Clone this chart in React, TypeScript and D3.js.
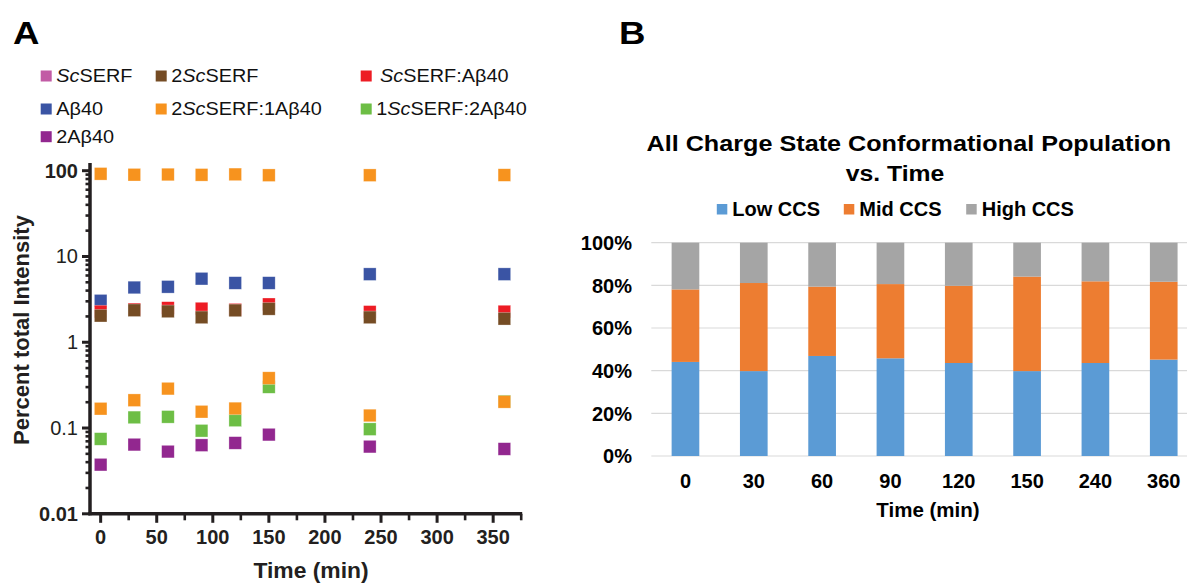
import React from 'react'
import * as d3 from 'd3'

// ---- Panel A: percent total intensity vs time (log scale) ----
const times = [0, 30, 60, 90, 120, 150, 240, 360]

// top row is drawn in orange in the source figure
const topSeries = [92, 89.8, 90.3, 89.5, 90.6, 88.6, 88.6, 89]
const abeta40 = [3.05, 4.35, 4.43, 5.51, 4.91, 4.91, 6.22, 6.22]
const scserfAbeta40 = [2.28, 2.42, 2.51, 2.47, 2.4, 2.77, 2.26, 2.28]
const twoScserf = [2.04, 2.36, 2.29, 1.95, 2.35, 2.45, 1.95, 1.88]
const twoAbeta40 = [0.0374, 0.0641, 0.0531, 0.0631, 0.067, 0.0838, 0.0607, 0.057]
const oneScserfTwoAbeta40 = [0.0746, 0.133, 0.135, 0.093, 0.123, 0.301, 0.097, 0.205]
const twoScserfOneAbeta40 = [0.168, 0.211, 0.288, 0.155, 0.169, 0.382, 0.14, 0.202]

const xTicksA = [0, 50, 100, 150, 200, 250, 300, 350]
const yTicksA = [0.01, 0.1, 1, 10, 100]
const yTickLabelsA = ['0.01', '0.1', '1', '10', '100']

const C = {
  pink: '#C25BA5',
  brown: '#754C24',
  red: '#ED1C24',
  blue: '#3A54A4',
  orange: '#F7931E',
  green: '#6DBE45',
  purple: '#92278F',
}

// legend entries: [text, italic?] parts
const legendA: { parts: [string, boolean][]; color: string }[] = [
  { parts: [['Sc', true], ['SERF', false]], color: C.pink },
  { parts: [['2', false], ['Sc', true], ['SERF', false]], color: C.brown },
  { parts: [['Sc', true], ['SERF:Aβ40', false]], color: C.red },
  { parts: [['Aβ40', false]], color: C.blue },
  { parts: [['2', false], ['Sc', true], ['SERF:1Aβ40', false]], color: C.orange },
  { parts: [['1', false], ['Sc', true], ['SERF:2Aβ40', false]], color: C.green },
  { parts: [['2Aβ40', false]], color: C.purple },
]

// draw order (later on top)
const plotSeriesA = [
  { values: abeta40, color: C.blue },
  { values: scserfAbeta40, color: C.red },
  { values: twoScserf, color: C.brown },
  { values: twoAbeta40, color: C.purple },
  { values: oneScserfTwoAbeta40, color: C.green },
  { values: twoScserfOneAbeta40, color: C.orange },
  { values: topSeries, color: C.orange },
]

// ---- Panel B: stacked 100% bars ----
const categories = ['0', '30', '60', '90', '120', '150', '240', '360']
const lowCCS = [44.1, 39.8, 46.9, 45.8, 43.6, 39.8, 43.6, 45.2]
const midCCS = [34.0, 41.3, 32.5, 34.8, 36.2, 44.3, 38.3, 36.5]
const highCCS = [21.9, 18.9, 20.6, 19.4, 20.2, 15.9, 18.1, 18.3]
const yTicksB = [0, 20, 40, 60, 80, 100]
const keysB = ['Low CCS', 'Mid CCS', 'High CCS']
const colorsB = ['#5B9BD5', '#ED7D31', '#A5A5A5']

const FONT = '"Liberation Sans", Arial, Helvetica, sans-serif'
const INK = '#231F20'

// text stretched horizontally (the source figure is a little wide)
function T(props: { x: number; y: number; sx?: number; children: any; [k: string]: any }) {
  const { x, y, sx = 1, children, ...rest } = props
  return (
    <text transform={`translate(${x},${y}) scale(${sx},1)`} {...rest}>{children}</text>
  )
}

function PanelA() {
  const x = d3.scaleLinear().domain([-9.5, 375]).range([90, 521.2])
  const y = d3.scaleLog().domain([0.01, 100]).range([513.8, 170.7])
  const minorY = y.ticks().filter(v => !yTicksA.some(t => Math.abs(t - v) / t < 1e-6))
  const minorX = d3.range(25, 376, 50)
  const s = 12.6
  const colX = [40.7, 155.7, 360.7]
  const rowY = [76, 109, 136.7]

  return (
    <g fontFamily={FONT}>
      <T x={13} y={43.5} sx={1.18} fontSize={31} fontWeight="bold" fill="#000">A</T>

      {legendA.map((d, i) => {
        const cx = colX[i % 3]
        const cy = rowY[Math.floor(i / 3)]
        const tx = i === 2 ? cx + 19.3 : cx + 15.5
        return (
          <g key={i}>
            <rect x={cx} y={cy - 5.5} width={11} height={11} fill={d.color} />
            <T x={tx} y={cy + 6.3} sx={1.13} fontSize={17.6} fill="#111">
              {d.parts.map((p, j) => (
                <tspan key={j} fontStyle={p[1] ? 'italic' : 'normal'}>{p[0]}</tspan>
              ))}
            </T>
          </g>
        )
      })}

      {/* axes */}
      <line x1={90} x2={90} y1={y(123)} y2={y(0.01) + 1.5} stroke={INK} strokeWidth={3.5} />
      <line x1={88.3} x2={x(375) + 1} y1={y(0.01)} y2={y(0.01)} stroke={INK} strokeWidth={3.5} />
      {yTicksA.map(t => (
        <line key={t} x1={82} x2={90} y1={y(t)} y2={y(t)} stroke={INK} strokeWidth={3} />
      ))}
      {minorY.map(t => (
        <line key={'m' + t} x1={85.5} x2={90} y1={y(t)} y2={y(t)} stroke={INK} strokeWidth={2.6} />
      ))}
      {xTicksA.map(t => (
        <line key={t} x1={x(t)} x2={x(t)} y1={y(0.01)} y2={y(0.01) + 9} stroke={INK} strokeWidth={3} />
      ))}
      {minorX.map(t => (
        <line key={'m' + t} x1={x(t)} x2={x(t)} y1={y(0.01)} y2={y(0.01) + 6.5} stroke={INK} strokeWidth={2.6} />
      ))}

      {yTicksA.map((t, i) => (
        <text key={t} x={78} y={y(t) + 7} textAnchor="end" fontSize={20}
          fontWeight={i === 0 || i === yTicksA.length - 1 ? 'bold' : 'normal'} fill={INK}>
          {yTickLabelsA[i]}
        </text>
      ))}
      {xTicksA.map(t => (
        <text key={t} x={x(t)} y={544} textAnchor="middle" fontSize={20} fontWeight="bold" fill={INK}>{t}</text>
      ))}

      <T x={311} y={578} sx={1.04} textAnchor="middle" fontSize={22} fontWeight="bold" fill={INK}>Time (min)</T>
      <text transform="translate(29,330) rotate(-90)" textAnchor="middle" fontSize={22} fontWeight="bold" fill={INK}>
        Percent total Intensity
      </text>

      {/* points */}
      {plotSeriesA.map((ser, si) => (
        <g key={si}>
          {ser.values.map((v, i) => (
            <rect key={i} x={x(times[i]) - s / 2} y={y(v) - s / 2} width={s} height={s}
              fill={ser.color} stroke="#fff" strokeOpacity={0.5} strokeWidth={0.6} />
          ))}
        </g>
      ))}
    </g>
  )
}

function PanelB() {
  const x = d3.scaleBand().domain(categories).range([651.3, 1197.9]).paddingInner(0.595).paddingOuter(0.2975)
  const y = d3.scaleLinear().domain([0, 100]).range([456, 242.7])
  const rows = categories.map((c, i) => ({ cat: c, 'Low CCS': lowCCS[i], 'Mid CCS': midCCS[i], 'High CCS': highCCS[i] }))
  const stacked = d3.stack<any>().keys(keysB)(rows)
  const legendTextX = [732.3, 859.3, 981.7]

  return (
    <g fontFamily={FONT}>
      <T x={619} y={43.5} sx={1.18} fontSize={31} fontWeight="bold" fill="#000">B</T>

      <T x={646.5} y={151} sx={1.12} fontSize={22.5} fontWeight="bold" fill="#000">
        All Charge State Conformational Population
      </T>
      <T x={895} y={180.7} sx={1.1} textAnchor="middle" fontSize={22.5} fontWeight="bold" fill="#000">vs. Time</T>

      {keysB.map((k, i) => (
        <g key={k}>
          <rect x={legendTextX[i] - 15.5} y={204} width={10.5} height={10.5} fill={colorsB[i]} />
          <text x={legendTextX[i]} y={216.3} fontSize={20} fontWeight="bold" fill="#000">{k}</text>
        </g>
      ))}

      {yTicksB.map(t => (
        <g key={t}>
          <line x1={651.3} x2={1197.9} y1={y(t)} y2={y(t)} stroke="#D9D9D9" strokeWidth={1.2} />
          <text x={632} y={y(t) + 7.2} textAnchor="end" fontSize={20} fontWeight="bold" fill="#000">{t}%</text>
        </g>
      ))}

      {stacked.map((layer, li) => (
        <g key={layer.key} fill={colorsB[li]}>
          {layer.map((d, i) => (
            <rect key={i} x={x(categories[i])} y={y(d[1])} width={x.bandwidth()} height={y(d[0]) - y(d[1])} />
          ))}
        </g>
      ))}

      {categories.map(c => (
        <text key={c} x={(x(c) as number) + x.bandwidth() / 2} y={488} textAnchor="middle" fontSize={20} fontWeight="bold" fill="#000">{c}</text>
      ))}
      <text x={928} y={517} textAnchor="middle" fontSize={20.5} fontWeight="bold" fill="#000">Time (min)</text>
    </g>
  )
}

export default function App() {
  return (
    <svg width={1187} height={583} style={{ position: 'absolute', left: 0, top: 0, background: '#fff' }}>
      <rect width={1187} height={583} fill="#fff" />
      <PanelA />
      <PanelB />
    </svg>
  )
}
